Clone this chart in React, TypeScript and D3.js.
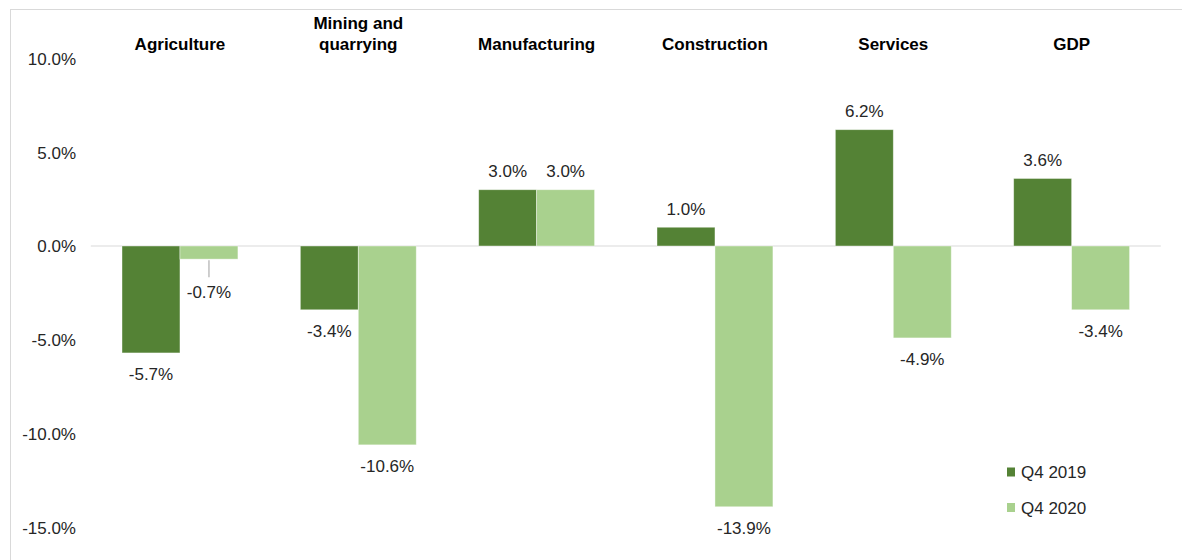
import React, { useEffect, useRef } from 'react';
import * as d3 from 'd3';

const categories = ['Agriculture', 'Mining and quarrying', 'Manufacturing', 'Construction', 'Services', 'GDP'];
const q42019 = [-5.7, -3.4, 3.0, 1.0, 6.2, 3.6];
const q42020 = [-0.7, -10.6, 3.0, -13.9, -4.9, -3.4];
const seriesNames = ['Q4 2019', 'Q4 2020'];
const yTicks = [10, 5, 0, -5, -10, -15];

const pct = (v: number) => d3.format('.1f')(v).replace('\u2212', '-') + '%';

const App = () => {
  const svgRef = useRef<SVGSVGElement>(null);

  useEffect(() => {
    document.body.style.margin = '0';
    const svg = d3.select(svgRef.current);
    svg.selectAll('*').remove();

    const width = 1182, height = 560;
    const font = 'Arial, "Liberation Sans", sans-serif';
    const colors = ['#548235', '#A9D18E'];
    const series = [q42019, q42020];

    const x = d3.scaleBand().domain(categories).range([90.8, 1160.8]).paddingInner(0.35).paddingOuter(0.175);
    const x1 = d3.scaleBand().domain(seriesNames).range([0, x.bandwidth()]);
    const y = d3.scaleLinear().domain([-15, 10]).range([527.4, 58.4]);

    // frame
    svg.append('rect').attr('x', 10.5).attr('y', 9.5).attr('width', width).attr('height', height)
      .attr('fill', 'white').attr('stroke', '#d9d9d9');

    // y tick labels
    svg.append('g').selectAll('text').data(yTicks).join('text')
      .attr('x', 76).attr('y', d => y(d)).attr('dy', '0.38em')
      .attr('text-anchor', 'end').attr('font-family', font).attr('font-size', 17).attr('fill', '#262626')
      .text(d => pct(d));

    // zero line
    svg.append('line').attr('x1', 90.8).attr('x2', 1160.8).attr('y1', y(0)).attr('y2', y(0))
      .attr('stroke', '#d9d9d9').attr('stroke-width', 1);

    // bars
    series.forEach((vals, si) => {
      const g = svg.append('g');
      const cx = (i: number) => x(categories[i])! + x1(seriesNames[si])! + x1.bandwidth() / 2;
      const short = (d: number) => d < 0 && Math.abs(y(d) - y(0)) < 20;

      g.selectAll('rect').data(vals).join('rect')
        .attr('x', (d, i) => x(categories[i])! + x1(seriesNames[si])!)
        .attr('width', x1.bandwidth())
        .attr('y', d => y(Math.max(0, d)))
        .attr('height', d => Math.abs(y(d) - y(0)))
        .attr('fill', colors[si]).attr('stroke', '#ffffff').attr('stroke-opacity', 0.5).attr('stroke-width', 0.8);

      g.selectAll('text').data(vals).join('text')
        .attr('x', (d, i) => cx(i))
        .attr('y', d => {
          if (d >= 0) return y(d) - 12.5;
          if (short(d)) return y(d) + 39;
          return y(d) + 27;
        })
        .attr('text-anchor', 'middle').attr('font-family', font).attr('font-size', 17).attr('fill', '#262626')
        .text(d => pct(d));

      // leader lines for short negative bars
      vals.forEach((d, i) => {
        if (!short(d)) return;
        g.append('line').attr('x1', cx(i)).attr('x2', cx(i))
          .attr('y1', y(d) + 1).attr('y2', y(d) + 18)
          .attr('stroke', '#bfbfbf').attr('stroke-width', 1.5);
      });
    });

    // category labels
    const cat = svg.append('g').selectAll('text').data(categories).join('text')
      .attr('x', d => x(d)! + x.bandwidth() / 2)
      .attr('y', 49.5)
      .attr('text-anchor', 'middle').attr('font-family', font).attr('font-size', 17)
      .attr('font-weight', 'bold').attr('fill', '#000');
    cat.each(function (d) {
      const t = d3.select(this);
      if (d === 'Mining and quarrying') {
        t.append('tspan').attr('x', x(d)! + x.bandwidth() / 2).attr('y', 28.5).text('Mining and');
        t.append('tspan').attr('x', x(d)! + x.bandwidth() / 2).attr('y', 49.5).text('quarrying');
      } else {
        t.text(d);
      }
    });

    // legend
    const legend = svg.append('g').selectAll('g').data(seriesNames).join('g')
      .attr('transform', (d, i) => `translate(1007,${472 + i * 35.5})`);
    legend.append('rect').attr('x', 0).attr('y', -4.5).attr('width', 8).attr('height', 9)
      .attr('fill', (d, i) => colors[i]);
    legend.append('text').attr('x', 14).attr('y', 0).attr('dy', '0.36em')
      .attr('font-family', font).attr('font-size', 17).attr('fill', '#262626').text(d => d);
  }, []);

  return <svg ref={svgRef} width={1182} height={560} style={{ display: 'block' }}></svg>;
};

export default App;
